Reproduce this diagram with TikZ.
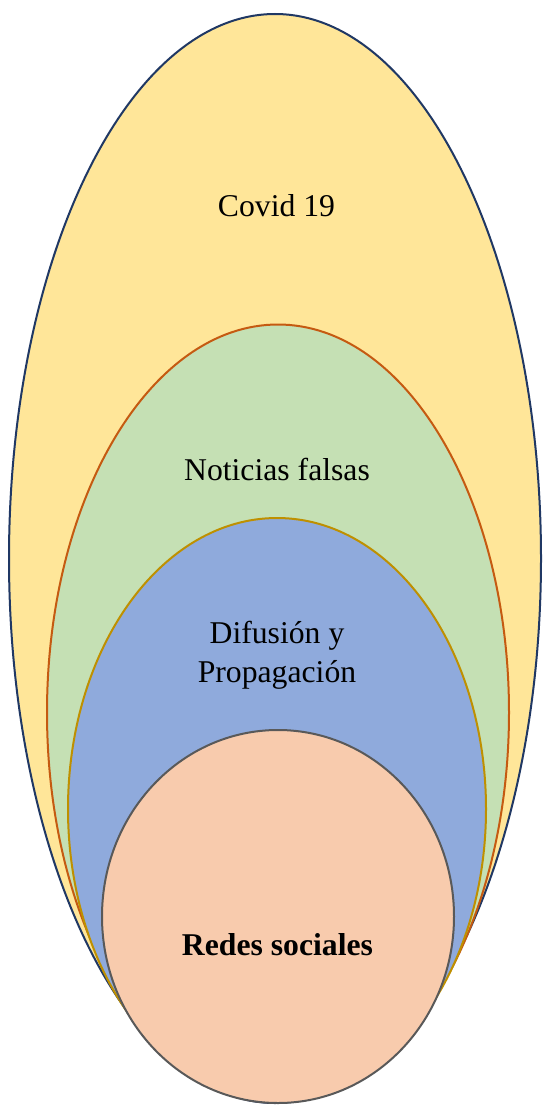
\documentclass[tikz,border=0pt]{standalone}
\usepackage{fontspec}
\setmainfont{Liberation Serif}
\usetikzlibrary{shapes.geometric}
\definecolor{fillY}{HTML}{FFE699}
\definecolor{fillG}{HTML}{C5E0B4}
\definecolor{fillB}{HTML}{8FAADC}
\definecolor{fillP}{HTML}{F8CBAD}
\definecolor{lineY}{HTML}{203864}
\definecolor{lineG}{HTML}{C55A11}
\definecolor{lineB}{HTML}{BF9000}
\definecolor{lineP}{HTML}{595959}
\tikzset{
  oval/.style={ellipse, inner sep=0pt, outer sep=0pt, line width=2pt},
  lbl/.style={anchor=base, inner sep=0pt, font=\fontsize{31.7}{38}\selectfont}
}
\begin{document}
\begin{tikzpicture}[x=1pt,y=-1pt]
\useasboundingbox (0,0) rectangle (542,1105);
\fill[white] (0,0) rectangle (542,1105);
\node[oval, draw=lineY, fill=fillY, minimum width=532pt, minimum height=1089pt] (covid) at (275,558.5) {};
\node[oval, draw=lineG, fill=fillG, minimum width=462pt, minimum height=776pt] (fake) at (278,712.5) {};
\node[oval, draw=lineB, fill=fillB, minimum width=418pt, minimum height=582pt] (spread) at (277,809) {};
\node[oval, draw=lineP, fill=fillP, minimum width=352pt, minimum height=373pt] (social) at (278,916.5) {};
\node[lbl] (tcovid) at (276.5,216) {Covid 19};
\node[lbl] (tfake) at (277,480) {Noticias falsas};
\node[lbl] (tspread1) at (277,643) {Difusión y};
\node[lbl] (tspread2) at (277,682) {Propagación};
\node[lbl, font=\fontsize{31.7}{38}\selectfont\bfseries] (tsocial) at (277.5,955) {Redes sociales};
\end{tikzpicture}
\end{document}
